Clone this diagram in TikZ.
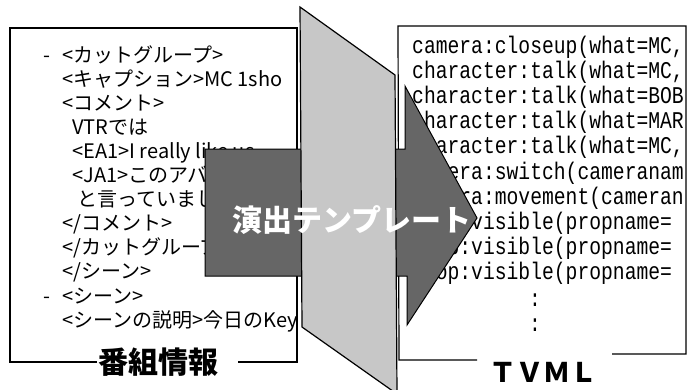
\documentclass[tikz,border=0pt]{standalone}
\usepackage{fontspec}
\setmainfont{Noto Sans CJK JP}
\newfontfamily\monoft[FakeStretch=0.82]{Liberation Mono}
\definecolor{panelgray}{gray}{0.78}
\definecolor{arrowgray}{gray}{0.40}
\begin{document}
\begin{tikzpicture}[x=1pt,y=-1pt,
  boxline/.style={line width=1.2pt, line join=miter},
  ltext/.style={anchor=base west, inner sep=0pt, font=\fontsize{20}{24}\selectfont},
  rtext/.style={anchor=base west, inner sep=0pt, font=\monoft\fontsize{24}{25}\selectfont},
  titletext/.style={inner sep=0pt, font=\bfseries\fontsize{30}{30}\selectfont},
]
\useasboundingbox (0,0) rectangle (688,389);
\fill[white] (0,0) rectangle (688,389);

% left box
\draw[boxline] (97,362) -- (10,362) -- (10,28) -- (297,28) -- (297,362) -- (238,362);
\node[titletext] (bangumi) at (158,362) {番組情報};
\begin{scope}
\clip (10,28) rectangle (297,362);
\node[ltext] (l1)  at (43,62)    {\makebox[19pt][l]{-}<カットグループ>};
\node[ltext] (l2)  at (62,86.1)  {<キャプション>MC 1sho};
\node[ltext] (l3)  at (62,110.2) {<コメント>};
\node[ltext] (l4)  at (72,134.3) {VTRでは};
\node[ltext] (l5)  at (72,158.4) {<EA1>I really like us};
\node[ltext] (l6)  at (72,182.5) {<JA1>このアバター};
\node[ltext] (l7)  at (77,206.6) {と言っていました};
\node[ltext] (l8)  at (62,230.7) {</コメント>};
\node[ltext] (l9)  at (62,254.8) {</カットグループ>};
\node[ltext] (l10) at (62,278.9) {</シーン>};
\node[ltext] (l11) at (43,303)   {\makebox[19pt][l]{-}<シーン>};
\node[ltext] (l12) at (62,327.1) {<シーンの説明>今日のKeyword};
\end{scope}

% right box
\draw[boxline] (477,360) -- (399,360) -- (398,26) -- (686,26) -- (686,354) -- (612,354);
\node[inner sep=0pt, font=\bfseries\fontsize{27}{27}\selectfont] (tvml) at (543,372) {ＴＶＭＬ};
\begin{scope}
\clip (398,26) rectangle (686,354);
\node[rtext] (r1)  at (412,53)    {camera:closeup(what=MC,};
\node[rtext] (r2)  at (412,78.2)  {character:talk(what=MC,};
\node[rtext] (r3)  at (412,103.4) {character:talk(what=BOB};
\node[rtext] (r4)  at (412,128.6) {character:talk(what=MAR};
\node[rtext] (r5)  at (412,153.8) {character:talk(what=MC,};
\node[rtext] (r6)  at (412,179)   {camera:switch(cameranam};
\node[rtext] (r7)  at (412,204.2) {camera:movement(cameran};
\node[rtext] (r8)  at (412,229.4) {prop:visible(propname=};
\node[rtext] (r9)  at (412,254.6) {prop:visible(propname=};
\node[rtext] (r10) at (412,279.8) {prop:visible(propname=};
\node[inner sep=0pt, font=\monoft\fontsize{24}{25}\selectfont, anchor=base] (dots1) at (535,306) {:};
\node[inner sep=0pt, font=\monoft\fontsize{24}{25}\selectfont, anchor=base] (dots2) at (535,331) {:};
\end{scope}

% template arrow
\draw[line width=1pt, line join=miter, fill=arrowgray]
  (205,149) -- (405,149) -- (405,86) -- (477,218) -- (407,325) -- (407,276) -- (205,276) -- cycle;
% light panel
\draw[line width=1.2pt, line join=miter, fill=panelgray]
  (300,7) -- (395,75) -- (397,394) -- (302,327) -- cycle;
\node[inner sep=0pt, text=white, font=\bfseries\fontsize{30}{30}\selectfont] (enshutsu) at (352,220) {演出テンプレート};
\end{tikzpicture}
\end{document}
